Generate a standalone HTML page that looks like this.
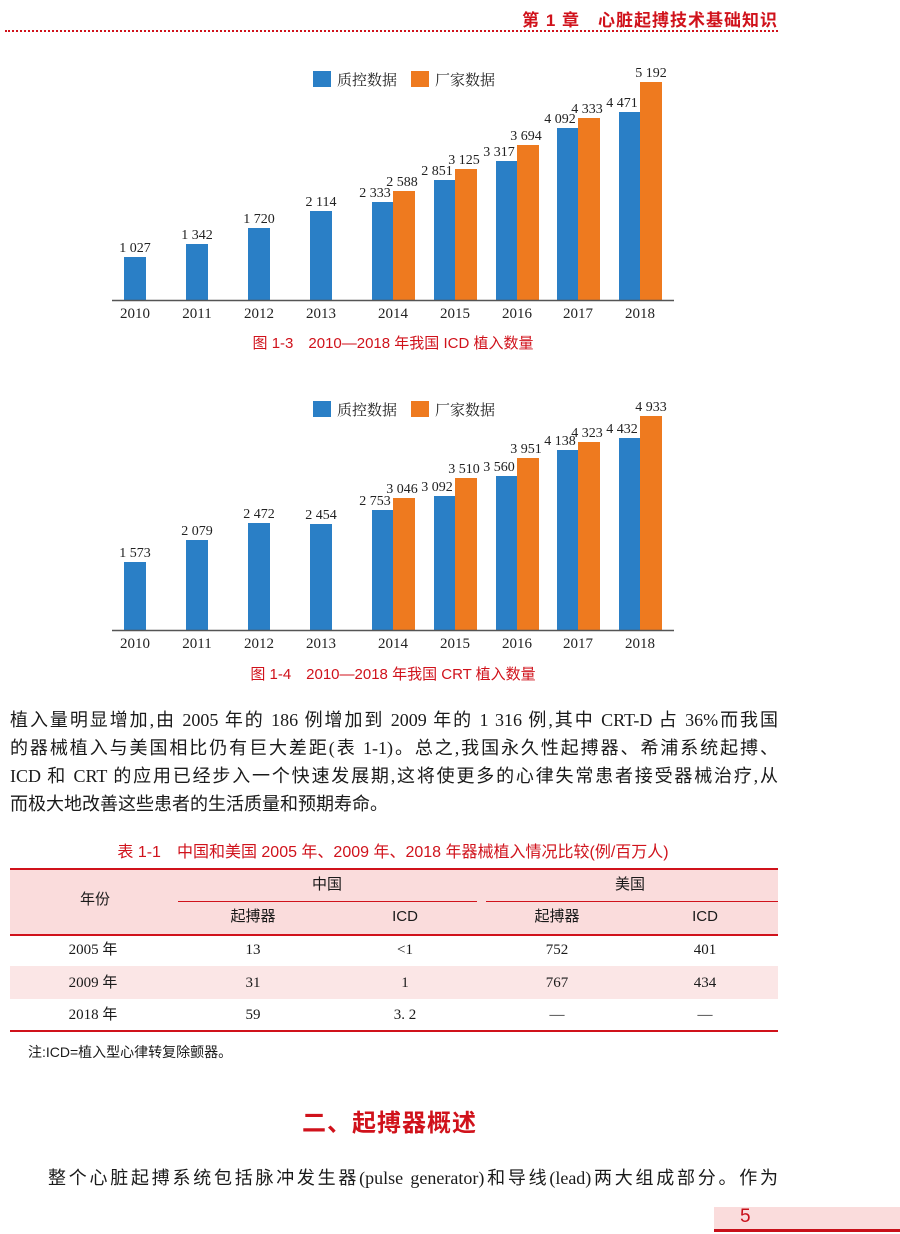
<!DOCTYPE html>
<html><head><meta charset="utf-8">
<style>
body{margin:0;background:#fff;width:900px;height:1234px;position:relative;overflow:hidden;font-family:"Liberation Serif","Noto Serif CJK SC",serif;color:#1a1a1a}
.abs{position:absolute}
.sans{font-family:"Liberation Sans","Noto Sans CJK SC",sans-serif}
.red{color:#d0121b}
.line{position:absolute;left:10px;width:768px;font-size:18px;line-height:22px;text-align:justify;text-align-last:justify;white-space:nowrap;font-family:"Liberation Serif","Noto Sans CJK SC",sans-serif}
.tc{position:absolute;font-size:15px;line-height:20px;height:20px;text-align:center;transform:translateX(-50%);white-space:nowrap}
</style></head><body>
<div class="abs sans red" style="right:122px;top:6px;font-size:17px;font-weight:bold;letter-spacing:1px">第 1 章　心脏起搏技术基础知识</div>
<div class="abs" style="left:5px;top:30px;width:773px;border-top:2px dotted #d0121b"></div>

<svg class="abs" style="left:0;top:0" width="900" height="700" font-family="Liberation Serif, Noto Serif CJK SC, serif">
<g font-size="15" fill="#222">
<rect x="313" y="71" width="18" height="16" fill="#2a7fc6"/><text x="337" y="85">质控数据</text>
<rect x="411" y="71" width="18" height="16" fill="#ee7a1f"/><text x="435" y="85">厂家数据</text>
<rect x="313" y="401" width="18" height="16" fill="#2a7fc6"/><text x="337" y="415">质控数据</text>
<rect x="411" y="401" width="18" height="16" fill="#ee7a1f"/><text x="435" y="415">厂家数据</text>
</g>
<!-- chart 1 -->
<g fill="#2a7fc6">
<rect x="124" y="257" width="22" height="43"/><rect x="186" y="244" width="22" height="56"/><rect x="248" y="228" width="22" height="72"/><rect x="310" y="211" width="22" height="89"/>
<rect x="372" y="202" width="21" height="98"/><rect x="434" y="180" width="21" height="120"/><rect x="496" y="161" width="21" height="139"/><rect x="557" y="128" width="21" height="172"/><rect x="619" y="112" width="21" height="188"/>
</g>
<g fill="#ee7a1f">
<rect x="393" y="191" width="22" height="109"/><rect x="455" y="169" width="22" height="131"/><rect x="517" y="145" width="22" height="155"/><rect x="578" y="118" width="22" height="182"/><rect x="640" y="82" width="22" height="218"/>
</g>
<line x1="112" y1="300.5" x2="674" y2="300.5" stroke="#555" stroke-width="1.5"/>
<g font-size="14" fill="#222" text-anchor="middle">
<text x="135" y="252">1 027</text><text x="197" y="239">1 342</text><text x="259" y="223">1 720</text><text x="321" y="206">2 114</text>
<text x="375" y="197">2 333</text><text x="402" y="186">2 588</text>
<text x="437" y="175">2 851</text><text x="464" y="164">3 125</text>
<text x="499" y="156">3 317</text><text x="526" y="140">3 694</text>
<text x="560" y="123">4 092</text><text x="587" y="113">4 333</text>
<text x="622" y="107">4 471</text><text x="651" y="77">5 192</text>
</g>
<g font-size="15" fill="#222" text-anchor="middle">
<text x="135" y="318">2010</text><text x="197" y="318">2011</text><text x="259" y="318">2012</text><text x="321" y="318">2013</text><text x="393" y="318">2014</text><text x="455" y="318">2015</text><text x="517" y="318">2016</text><text x="578" y="318">2017</text><text x="640" y="318">2018</text>
</g>
<text x="393" y="348" text-anchor="middle" font-size="15" fill="#d0121b" font-family="Liberation Sans, Noto Sans CJK SC, sans-serif">图 1-3　2010—2018 年我国 ICD 植入数量</text>
<!-- chart 2 -->
<g fill="#2a7fc6">
<rect x="124" y="562" width="22" height="68"/><rect x="186" y="540" width="22" height="90"/><rect x="248" y="523" width="22" height="107"/><rect x="310" y="524" width="22" height="106"/>
<rect x="372" y="510" width="21" height="120"/><rect x="434" y="496" width="21" height="134"/><rect x="496" y="476" width="21" height="154"/><rect x="557" y="450" width="21" height="180"/><rect x="619" y="438" width="21" height="192"/>
</g>
<g fill="#ee7a1f">
<rect x="393" y="498" width="22" height="132"/><rect x="455" y="478" width="22" height="152"/><rect x="517" y="458" width="22" height="172"/><rect x="578" y="442" width="22" height="188"/><rect x="640" y="416" width="22" height="214"/>
</g>
<line x1="112" y1="630.5" x2="674" y2="630.5" stroke="#555" stroke-width="1.5"/>
<g font-size="14" fill="#222" text-anchor="middle">
<text x="135" y="557">1 573</text><text x="197" y="535">2 079</text><text x="259" y="518">2 472</text><text x="321" y="519">2 454</text>
<text x="375" y="505">2 753</text><text x="402" y="493">3 046</text>
<text x="437" y="491">3 092</text><text x="464" y="473">3 510</text>
<text x="499" y="471">3 560</text><text x="526" y="453">3 951</text>
<text x="560" y="445">4 138</text><text x="587" y="437">4 323</text>
<text x="622" y="433">4 432</text><text x="651" y="411">4 933</text>
</g>
<g font-size="15" fill="#222" text-anchor="middle">
<text x="135" y="648">2010</text><text x="197" y="648">2011</text><text x="259" y="648">2012</text><text x="321" y="648">2013</text><text x="393" y="648">2014</text><text x="455" y="648">2015</text><text x="517" y="648">2016</text><text x="578" y="648">2017</text><text x="640" y="648">2018</text>
</g>
<text x="393" y="679" text-anchor="middle" font-size="15" fill="#d0121b" font-family="Liberation Sans, Noto Sans CJK SC, sans-serif">图 1-4　2010—2018 年我国 CRT 植入数量</text>
</svg>

<div class="line" style="top:709px">植入量明显增加,由 2005 年的 186 例增加到 2009 年的 1 316 例,其中 CRT-D 占 36%而我国</div>
<div class="line" style="top:737px">的器械植入与美国相比仍有巨大差距(表 1-1)。总之,我国永久性起搏器、希浦系统起搏、</div>
<div class="line" style="top:765px">ICD 和 CRT 的应用已经步入一个快速发展期,这将使更多的心律失常患者接受器械治疗,从</div>
<div class="line" style="top:793px;text-align-last:left">而极大地改善这些患者的生活质量和预期寿命。</div>

<div class="abs sans red" style="left:0;width:786px;text-align:center;top:838px;font-size:16px">表 1-1　中国和美国 2005 年、2009 年、2018 年器械植入情况比较(例/百万人)</div>
<div class="abs" style="left:10px;top:868px;width:768px;height:64px;background:#fadcdc;border-top:2px solid #d0121b;border-bottom:2px solid #d0121b"></div>
<div class="abs" style="left:10px;top:966px;width:768px;height:33px;background:#fbe6e6"></div>
<div class="abs" style="left:10px;top:1030px;width:768px;border-top:2px solid #d0121b"></div>
<div class="abs" style="left:178px;top:901px;width:299px;border-top:1px solid #d0121b"></div>
<div class="abs" style="left:486px;top:901px;width:292px;border-top:1px solid #d0121b"></div>
<div class="sans">
<div class="tc" style="left:95px;top:890px">年份</div>
<div class="tc" style="left:327px;top:875px">中国</div>
<div class="tc" style="left:630px;top:875px">美国</div>
<div class="tc" style="left:253px;top:907px">起搏器</div>
<div class="tc" style="left:405px;top:907px">ICD</div>
<div class="tc" style="left:557px;top:907px">起搏器</div>
<div class="tc" style="left:705px;top:907px">ICD</div>
</div>
<div style="font-family:'Liberation Serif','Noto Sans CJK SC',serif">
<div class="tc" style="left:93px;top:940px">2005 年</div><div class="tc" style="left:253px;top:940px">13</div><div class="tc" style="left:405px;top:940px">&lt;1</div><div class="tc" style="left:557px;top:940px">752</div><div class="tc" style="left:705px;top:940px">401</div>
<div class="tc" style="left:93px;top:973px">2009 年</div><div class="tc" style="left:253px;top:973px">31</div><div class="tc" style="left:405px;top:973px">1</div><div class="tc" style="left:557px;top:973px">767</div><div class="tc" style="left:705px;top:973px">434</div>
<div class="tc" style="left:93px;top:1005px">2018 年</div><div class="tc" style="left:253px;top:1005px">59</div><div class="tc" style="left:405px;top:1005px">3. 2</div><div class="tc" style="left:557px;top:1005px">—</div><div class="tc" style="left:705px;top:1005px">—</div>
</div>
<div class="abs sans" style="left:28px;top:1042px;font-size:14px">注:ICD=植入型心律转复除颤器。</div>

<div class="abs sans red" style="left:302px;top:1103px;font-size:24px;font-weight:bold;letter-spacing:1px">二、起搏器概述</div>
<div class="line" style="left:48px;width:730px;top:1167px">整个心脏起搏系统包括脉冲发生器(pulse generator)和导线(lead)两大组成部分。作为</div>

<div class="abs" style="left:714px;top:1207px;width:186px;height:22px;background:#fadcdc;border-bottom:3px solid #c8101a"></div>
<div class="abs sans" style="left:740px;top:1206px;font-size:19px;color:#c8101a">5</div>
</body></html>
